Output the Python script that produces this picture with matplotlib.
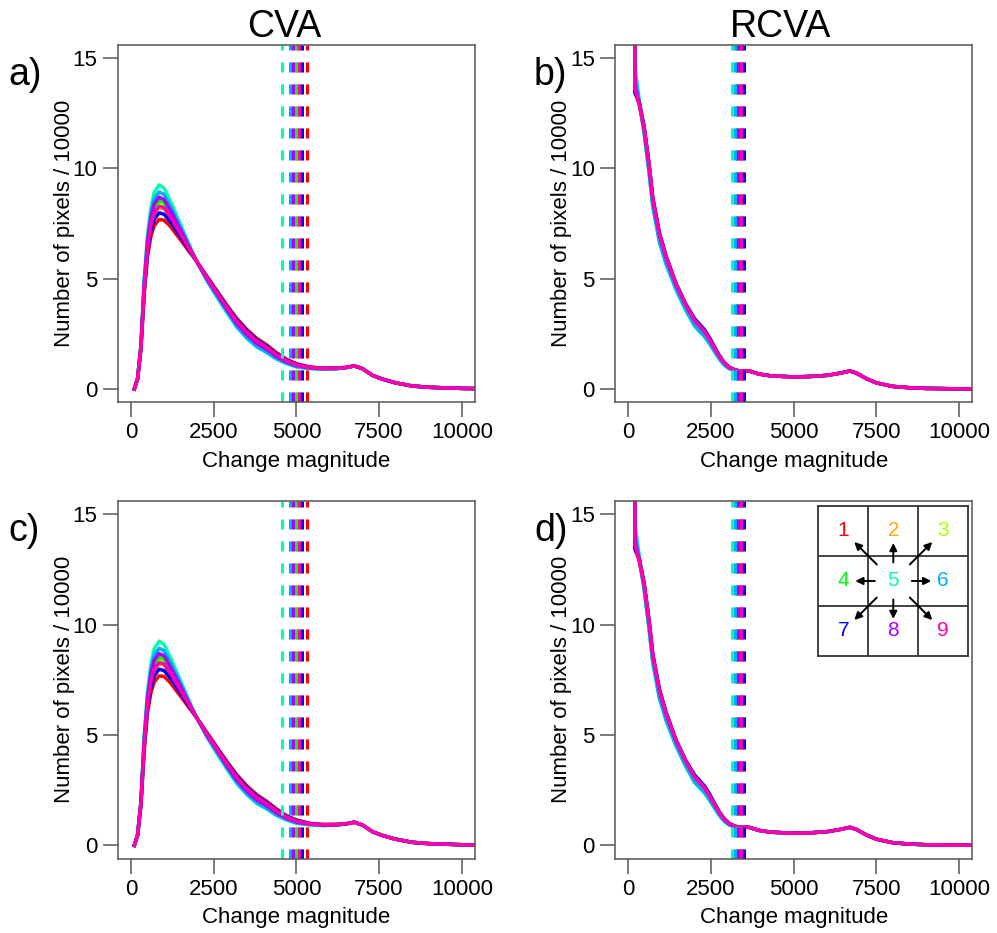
import matplotlib
matplotlib.use('Agg')
import matplotlib.pyplot as plt

plt.rcParams['font.family'] = ['Liberation Sans', 'DejaVu Sans']

# Colours of the 9 window positions (R rainbow(9))
colors = ['#FF0000', '#FFAA00', '#AAFF00', '#00FF00', '#00FFAA',
          '#00AAFF', '#0000FF', '#AA00FF', '#FF00AA']

# ---- CVA histograms (number of pixels / 10000) ----
cva_x = [100, 200, 300, 400, 500, 600, 700, 850, 1000, 1200, 1500, 1800, 2000,
         2300, 2600, 2900, 3200, 3500, 3800, 4100, 4400, 4700, 5000,
         5400, 5800, 6200, 6500, 6750, 7000, 7300, 7600, 8000, 8500, 9000,
         10000, 10500]
cva_1 = [0, 0.45, 1.8, 4.3, 6.0, 6.9, 7.4, 7.68, 7.65, 7.35, 6.75, 6.15, 5.75,
         5.1, 4.45, 3.8, 3.2, 2.7, 2.3, 2.0, 1.65, 1.35, 1.15, 1.0, 0.95, 0.95, 0.98]
cva_2 = [0, 0.47, 1.87, 4.55, 6.35, 7.36, 7.94, 8.22, 8.17, 7.74, 7.0, 6.24, 5.75,
         5.02, 4.33, 3.66, 3.04, 2.54, 2.14, 1.86, 1.53, 1.27, 1.09, 0.97, 0.93, 0.94, 0.98]
cva_3 = [0, 0.47, 1.9, 4.64, 6.48, 7.52, 8.12, 8.42, 8.35, 7.87, 7.09, 6.27, 5.75,
         5.0, 4.3, 3.62, 3.0, 2.5, 2.1, 1.82, 1.5, 1.25, 1.07, 0.96, 0.92, 0.93, 0.97]
cva_4 = [0, 0.48, 1.91, 4.69, 6.55, 7.62, 8.23, 8.53, 8.45, 7.96, 7.14, 6.29, 5.75,
         4.99, 4.3, 3.6, 2.98, 2.48, 2.08, 1.81, 1.49, 1.24, 1.07, 0.96, 0.92, 0.93, 0.97]
cva_5 = [0, 0.5, 2.0, 5.0, 7.0, 8.2, 8.9, 9.25, 9.1, 8.5, 7.45, 6.4, 5.75,
         4.9, 4.15, 3.45, 2.8, 2.3, 1.9, 1.65, 1.35, 1.15, 1.0, 0.93, 0.9, 0.92, 0.97]
cva_6 = [0, 0.49, 1.96, 4.87, 6.8, 7.95, 8.6, 8.93, 8.82, 8.26, 7.32, 6.35, 5.75,
         4.92, 4.22, 3.52, 2.84, 2.34, 1.94, 1.68, 1.38, 1.17, 1.02, 0.94, 0.9, 0.92, 0.97]
cva_7 = [0, 0.46, 1.84, 4.43, 6.19, 7.15, 7.68, 7.98, 7.92, 7.56, 6.88, 6.2, 5.75,
         5.07, 4.4, 3.75, 3.14, 2.64, 2.24, 1.95, 1.6, 1.32, 1.13, 0.99, 0.94, 0.95, 0.98]
cva_8 = [0, 0.48, 1.93, 4.76, 6.65, 7.75, 8.38, 8.69, 8.59, 8.07, 7.2, 6.31, 5.75,
         4.98, 4.3, 3.6, 2.96, 2.46, 2.06, 1.8, 1.47, 1.23, 1.06, 0.96, 0.92, 0.93, 0.97]
cva_9 = [0, 0.47, 1.88, 4.57, 6.39, 7.41, 7.99, 8.28, 8.22, 7.79, 7.02, 6.25, 5.75,
         5.04, 4.36, 3.7, 3.08, 2.58, 2.18, 1.9, 1.56, 1.29, 1.1, 0.98, 0.94, 0.94, 0.98]
cva_tail = [1.05, 0.92, 0.62, 0.45, 0.28, 0.14, 0.08, 0.03, 0.02]
cva_thresh = [5330, 5040, 5010, 4990, 4560, 4810, 5160, 4900, 5080]

# ---- RCVA histograms ----
rcva_x = [150, 200, 330, 480, 630, 740, 940, 1140, 1440, 1740, 2000, 2150, 2300,
          2450, 2600, 2750, 2900, 3050, 3200, 3350, 3650, 3950, 4300, 5000,
          5500, 6000, 6400, 6700, 6900, 7200, 7500, 8000, 8500, 9000, 10000, 10500]
rcva_1 = [40, 13.5, 12.9, 11.8, 10.1, 8.6, 7.0, 6.0, 4.75, 3.8, 3.1, 2.85, 2.6,
          2.25, 1.85, 1.48, 1.18, 0.98, 0.88]
rcva_2 = [40, 13.8, 12.9, 11.7, 10.0, 8.5, 6.9, 5.9, 4.7, 3.75, 3.05, 2.8, 2.55,
          2.2, 1.82, 1.45, 1.16, 0.97, 0.87]
rcva_3 = [40, 14.0, 13.0, 11.7, 9.95, 8.45, 6.85, 5.85, 4.65, 3.7, 3.0, 2.75, 2.5,
          2.17, 1.8, 1.43, 1.14, 0.96, 0.86]
rcva_4 = [40, 14.2, 13.0, 11.65, 9.9, 8.4, 6.8, 5.8, 4.6, 3.65, 2.95, 2.7, 2.45,
          2.13, 1.77, 1.4, 1.12, 0.94, 0.85]
rcva_5 = [40, 14.6, 13.1, 11.6, 9.75, 8.25, 6.65, 5.65, 4.5, 3.55, 2.85, 2.6, 2.37,
          2.05, 1.7, 1.35, 1.08, 0.92, 0.83]
rcva_6 = [40, 14.3, 13.0, 11.6, 9.8, 8.3, 6.7, 5.7, 4.55, 3.6, 2.9, 2.65, 2.42,
          2.1, 1.73, 1.38, 1.1, 0.93, 0.84]
rcva_7 = [40, 13.4, 13.0, 11.9, 10.2, 8.7, 7.1, 6.05, 4.8, 3.85, 3.2, 2.95, 2.7,
          2.35, 1.93, 1.53, 1.21, 1.0, 0.89]
rcva_8 = [40, 13.7, 12.95, 11.8, 10.1, 8.6, 7.0, 5.95, 4.75, 3.8, 3.12, 2.88, 2.63,
          2.28, 1.88, 1.5, 1.19, 0.98, 0.88]
rcva_9 = [40, 13.6, 12.9, 11.8, 10.1, 8.6, 7.0, 6.0, 4.75, 3.8, 3.1, 2.85, 2.6,
          2.25, 1.85, 1.48, 1.18, 0.97, 0.87]
rcva_tail = [0.82, 0.82, 0.68, 0.6, 0.55, 0.57, 0.62, 0.72, 0.82, 0.72, 0.47,
             0.28, 0.12, 0.06, 0.03, 0.01, 0.01]
rcva_thresh = [3420, 3360, 3300, 3280, 3130, 3230, 3490, 3320, 3400]

cva_series = [cva_1, cva_2, cva_3, cva_4, cva_5, cva_6, cva_7, cva_8, cva_9]
rcva_series = [rcva_1, rcva_2, rcva_3, rcva_4, rcva_5, rcva_6, rcva_7, rcva_8, rcva_9]

x_ticks = [0, 2500, 5000, 7500, 10000]
y_ticks = [0, 5, 10, 15]
frame_col = '#555555'


def draw_panel(ax, xs, series, tail, thresholds):
    for i, ys in enumerate(series):
        ax.plot(xs, ys + tail, color=colors[i], lw=2.5, solid_joinstyle='round')
    for i, t in enumerate(thresholds):
        ax.axvline(t, color=colors[i], lw=2.2, linestyle=(0, (3.3, 3.9)))
    ax.set_xlim(-400, 10400)
    ax.set_ylim(-0.6, 15.6)
    ax.set_xticks(x_ticks)
    ax.set_xticklabels([str(v) for v in x_ticks])
    ax.set_yticks(y_ticks)
    ax.tick_params(length=11, width=1.1, color=frame_col, pad=3.5,
                   labelsize=16, labelcolor='black')
    for s in ax.spines.values():
        s.set_color(frame_col)
        s.set_linewidth(1.1)
    ax.set_xlabel('Change magnitude', fontsize=16)
    ax.set_ylabel('Number of pixels / 10000', fontsize=16)
    ax.xaxis.set_label_coords(0.5, -0.135)
    ax.yaxis.set_label_coords(-0.12, 0.5)


fig = plt.figure(figsize=(9.97, 9.33), dpi=100)
pos = {'a': [0.1181, 0.5688, 0.3584, 0.3833], 'b': [0.6169, 0.5688, 0.3584, 0.3833],
       'c': [0.1181, 0.0797, 0.3584, 0.3833], 'd': [0.6169, 0.0797, 0.3584, 0.3833]}

ax_a = fig.add_axes(pos['a'])
draw_panel(ax_a, cva_x, cva_series, cva_tail, cva_thresh)
ax_b = fig.add_axes(pos['b'])
draw_panel(ax_b, rcva_x, rcva_series, rcva_tail, rcva_thresh)
ax_c = fig.add_axes(pos['c'])
draw_panel(ax_c, cva_x, cva_series, cva_tail, cva_thresh)
ax_d = fig.add_axes(pos['d'])
draw_panel(ax_d, rcva_x, rcva_series, rcva_tail, rcva_thresh)

# column titles and panel letters
fig.text(284 / 997, 1 - 37 / 933, 'CVA', ha='center', va='baseline', fontsize=27)
fig.text(781 / 997, 1 - 37 / 933, 'RCVA', ha='center', va='baseline', fontsize=27)
for lab, (px, py) in {'a)': (8, 85), 'b)': (534, 85), 'c)': (8, 541), 'd)': (534, 541)}.items():
    fig.text(px / 997, 1 - py / 933, lab, ha='left', va='baseline', fontsize=27)

# inset: 3x3 neighbourhood with shift directions
ins = fig.add_axes([818.3 / 997, (933 - 656) / 933, 150 / 997, 150 / 933])
ins.set_xlim(0, 3)
ins.set_ylim(0, 3)
ins.set_xticks([])
ins.set_yticks([])
for s in ins.spines.values():
    s.set_color('#333333')
    s.set_linewidth(1.3)
for k in (1, 2):
    ins.axvline(k, color='#333333', lw=1.3)
    ins.axhline(k, color='#333333', lw=1.3)
for n in range(9):
    r, c = divmod(n, 3)
    ins.text(c + 0.5, 2.5 - r, str(n + 1), color=colors[n], fontsize=15,
             ha='center', va='center')
    if n == 4:
        continue
    dx, dy = c - 1, 1 - r
    if dx != 0 and dy != 0:
        s0, s1 = 0.33, 0.78
    else:
        s0, s1 = 0.37, 0.76
    ins.annotate('', xy=(1.5 + dx * s1, 1.5 + dy * s1),
                 xytext=(1.5 + dx * s0, 1.5 + dy * s0),
                 arrowprops=dict(arrowstyle='-|>', color='black', lw=1.4,
                                 mutation_scale=11, shrinkA=0, shrinkB=0))

fig.savefig('out.png', dpi=100)
